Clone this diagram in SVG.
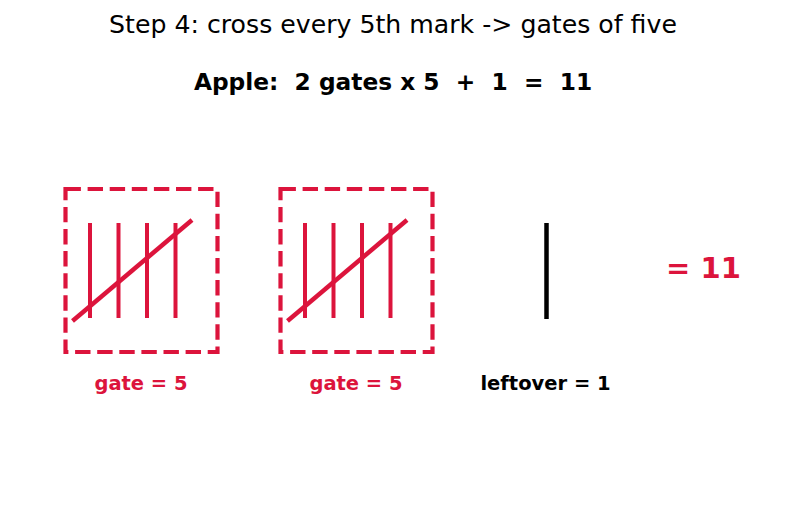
<svg xmlns="http://www.w3.org/2000/svg" width="787" height="511" viewBox="0 0 787 511">
<style>
text{font-family:"DejaVu Sans",sans-serif;white-space:pre}
.gate{fill:none;stroke:#DC143C;stroke-width:4.2;stroke-dasharray:15.4 6.7}
.mark{stroke:#DC143C;stroke-width:4;stroke-linecap:butt}
.cross{stroke:#DC143C;stroke-width:4.5;stroke-linecap:butt}
.lbl{font-size:19.5px;font-weight:bold;text-anchor:middle}
</style>
<rect width="787" height="511" fill="#fff"/>
<text x="393" y="32.5" font-size="25.2" text-anchor="middle">Step 4: cross every 5th mark -&gt; gates of five</text>
<text x="393" y="90" font-size="23.3" font-weight="bold" text-anchor="middle">Apple:  2 gates x 5  +  1  =  11</text>
<g id="gate1">
<rect class="gate" x="65.5" y="189" width="152" height="163"/>
<line class="mark" x1="90" y1="223" x2="90" y2="318"/>
<line class="mark" x1="118.5" y1="223" x2="118.5" y2="318"/>
<line class="mark" x1="147" y1="223" x2="147" y2="318"/>
<line class="mark" x1="175.5" y1="223" x2="175.5" y2="318"/>
<line class="cross" x1="72.5" y1="321" x2="192" y2="220"/>
<text class="lbl" x="141" y="389.5" fill="#DC143C">gate = 5</text>
</g>
<g id="gate2">
<rect class="gate" x="280.5" y="189" width="152" height="163"/>
<line class="mark" x1="305" y1="223" x2="305" y2="318"/>
<line class="mark" x1="333.5" y1="223" x2="333.5" y2="318"/>
<line class="mark" x1="362" y1="223" x2="362" y2="318"/>
<line class="mark" x1="390.5" y1="223" x2="390.5" y2="318"/>
<line class="cross" x1="287.5" y1="321" x2="407" y2="220"/>
<text class="lbl" x="356" y="389.5" fill="#DC143C">gate = 5</text>
</g>
<g id="leftover">
<line x1="546.5" y1="223" x2="546.5" y2="319" stroke="#000" stroke-width="4.5"/>
<text class="lbl" x="545.5" y="389.5" fill="#000">leftover = 1</text>
</g>
<g id="total">
<text x="703.5" y="278" font-size="29" font-weight="bold" text-anchor="middle" fill="#DC143C">= 11</text>
</g>
<g id="connectors"/>
</svg>
